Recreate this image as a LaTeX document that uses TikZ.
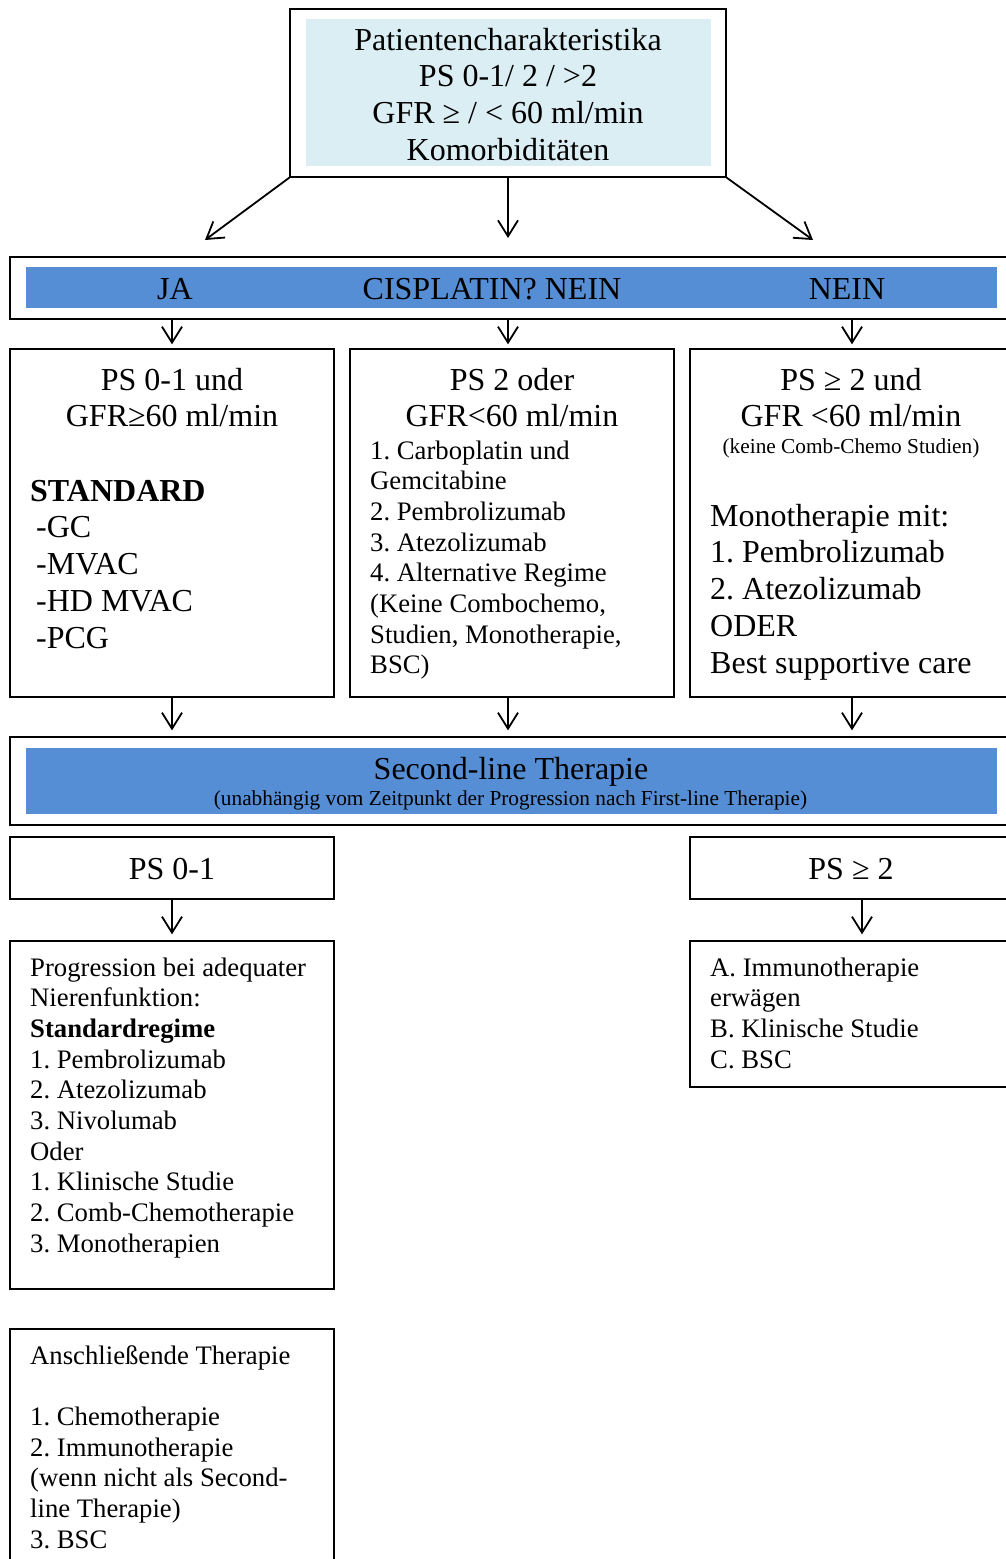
\documentclass[tikz,border=0pt]{standalone}
\usepackage{fontspec}
\setmainfont{Liberation Serif}
\usetikzlibrary{arrows.meta,calc}
\definecolor{lightbl}{HTML}{DBEEF4}
\definecolor{barbl}{HTML}{558ED5}
\frenchspacing
\begin{document}
\frenchspacing
\begin{tikzpicture}[x=1pt,y=-1pt,
  box/.style={draw=black, line width=1.3pt, rectangle, inner sep=0pt},
  fillbox/.style={rectangle, inner sep=0pt, draw=none},
  arr/.style={draw=black, line width=1.8pt, -{Straight Barb[length=16pt,width=20pt]}},
  big/.style={font=\frenchspacing\fontsize{32}{36.8}\selectfont},
  mid/.style={font=\frenchspacing\fontsize{26.7}{30.7}\selectfont},
  small/.style={font=\frenchspacing\fontsize{21.3}{24.5}\selectfont},
  lst/.style={inner sep=0pt, anchor=base west, text width=420pt, align=flush left},
  ctr/.style={inner sep=0pt, anchor=base, text width=420pt, align=flush center},
  one/.style={inner sep=0pt, anchor=base},
]
\useasboundingbox (0,0) rectangle (1005,1559);
\fill[white] (0,0) rectangle (1005,1559);

% top box
\node[box, minimum width=436pt, minimum height=168pt] (top) at (508,93) {};
\node[fillbox, fill=lightbl, minimum width=405pt, minimum height=147pt] (topfill) at (508.5,92.5) {};
\node[ctr,big] (toptext) at (508,50) {Patientencharakteristika\\PS 0-1/ 2 / >2\\GFR ≥ / < 60 ml/min\\Komorbiditäten};

% cisplatin bar
\node[box, minimum width=1003pt, minimum height=62pt] (bar) at (511.5,288) {};
\node[fillbox, fill=barbl, minimum width=971pt, minimum height=41pt] (barfill) at (511.5,287.5) {};
\node[one,big] (ja) at (175,299) {JA};
\node[one,big] (cis) at (492,299) {CISPLATIN? NEIN};
\node[one,big] (nein) at (847,299) {NEIN};

% three boxes
\node[box, minimum width=324pt, minimum height=348pt] (lbox) at (172,523) {};
\node[box, minimum width=324pt, minimum height=348pt] (mbox) at (512,523) {};
\node[box, minimum width=324pt, minimum height=348pt] (rbox) at (852,523) {};

\node[ctr,big] (lhead) at (172,390) {PS 0-1 und\\GFR≥60 ml/min};
\node[lst,big] (llist) at (30,501) {\textbf{STANDARD}\\\hspace*{6pt}-GC\\\hspace*{6pt}-MVAC\\\hspace*{6pt}-HD MVAC\\\hspace*{6pt}-PCG};

\node[ctr,big] (mhead) at (512,390) {PS 2 oder\\GFR<60 ml/min};
\node[lst,mid] (mlist) at (370,459) {1. Carboplatin und\\Gemcitabine\\2. Pembrolizumab\\3. Atezolizumab\\4. Alternative Regime\\(Keine Combochemo,\\Studien, Monotherapie,\\BSC)};

\node[ctr,big] (rhead) at (851,390) {PS ≥ 2 und\\GFR <60 ml/min};
\node[one,small] (rnote) at (851,453) {(keine Comb-Chemo Studien)};
\node[lst,big] (rlist) at (710,526) {Monotherapie mit:\\1. Pembrolizumab\\2. Atezolizumab\\ODER\\Best supportive care};

% second-line bar
\node[box, minimum width=1003pt, minimum height=88pt] (sbar) at (511.5,781) {};
\node[fillbox, fill=barbl, minimum width=971pt, minimum height=66pt] (sbarfill) at (511.5,781) {};
\node[one,big] (stitle) at (511,779) {Second-line Therapie};
\node[one,small] (ssub) at (510.5,805) {(unabhängig vom Zeitpunkt der Progression nach First-line Therapie)};

% PS boxes
\node[box, minimum width=324pt, minimum height=62pt] (ps01) at (172,868) {};
\node[one,big] (ps01t) at (172,879) {PS 0-1};
\node[box, minimum width=324pt, minimum height=62pt] (ps2) at (852,868) {};
\node[one,big] (ps2t) at (851,879) {PS ≥ 2};

% lower boxes
\node[box, minimum width=324pt, minimum height=348pt] (prog) at (172,1115) {};
\node[lst,mid] (progt) at (30,976) {Progression bei adequater\\Nierenfunktion:\\\textbf{Standardregime}\\1. Pembrolizumab\\2. Atezolizumab\\3. Nivolumab\\Oder\\1. Klinische Studie\\2. Comb-Chemotherapie\\3. Monotherapien};

\node[box, minimum width=324pt, minimum height=146pt] (rlow) at (852,1014) {};
\node[lst,mid] (rlowt) at (710,976) {A. Immunotherapie\\erwägen\\B. Klinische Studie\\C. BSC};

\node[box, minimum width=324pt, minimum height=251pt] (ansch) at (172,1454.5) {};
\node[lst,mid] (anscht) at (30,1364) {Anschließende Therapie\\\mbox{}\\1. Chemotherapie\\2. Immunotherapie\\(wenn nicht als Second-\\line Therapie)\\3. BSC};

% connectors
\coordinate (la) at (205,240);
\coordinate (ma) at (508,238);
\coordinate (ra) at (813,240);
\draw[arr] (top.south west) -- (la);
\draw[arr] (top.south) -- (ma);
\draw[arr] (top.south east) -- (ra);

\draw[arr, shorten >=4pt] (bar.south -| lbox.north) -- (lbox.north);
\draw[arr, shorten >=4pt] (bar.south -| top.south) -- (mbox.north -| top.south);
\draw[arr, shorten >=4pt] (bar.south -| rbox.north) -- (rbox.north);

\draw[arr, shorten >=6pt] (lbox.south) -- (sbar.north -| lbox.south);
\draw[arr, shorten >=6pt] (mbox.south -| top.south) -- (sbar.north -| top.south);
\draw[arr, shorten >=6pt] (rbox.south) -- (sbar.north -| rbox.south);

\draw[arr, shorten >=6pt] (ps01.south) -- (prog.north);
\draw[arr, shorten >=6pt] ([xshift=10pt]ps2.south) -- ([xshift=10pt]rlow.north);
\end{tikzpicture}
\end{document}
